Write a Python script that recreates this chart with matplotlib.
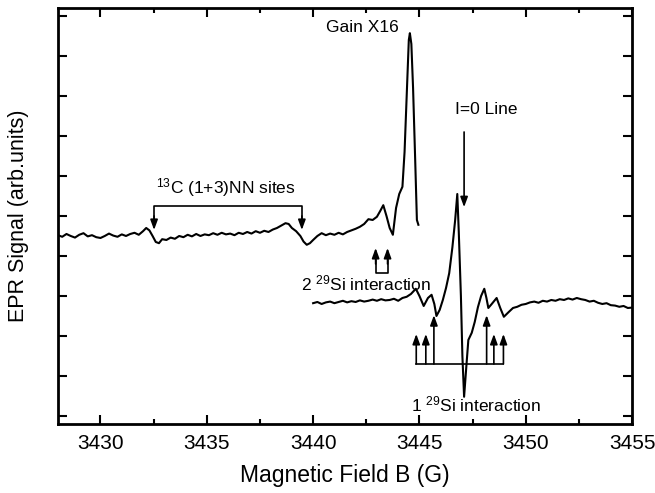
import matplotlib
matplotlib.use('Agg')
import matplotlib.pyplot as plt
from matplotlib.ticker import MultipleLocator

plt.rcParams['font.family'] = ['Liberation Sans', 'DejaVu Sans']
plt.rcParams['mathtext.default'] = 'regular'

# Upper trace (Gain X16), field in G, signal in arb. units
upper_b = [3428.0, 3428.2, 3428.4, 3428.6, 3428.8, 3429.0, 3429.2, 3429.4, 3429.6, 3429.8,
           3430.0, 3430.2, 3430.4, 3430.6, 3430.8, 3431.0, 3431.2, 3431.4, 3431.6, 3431.8,
           3432.0, 3432.15, 3432.3, 3432.45, 3432.6, 3432.75, 3432.9, 3433.1, 3433.3, 3433.5,
           3433.7, 3433.9, 3434.1, 3434.3, 3434.5, 3434.7, 3434.9, 3435.1, 3435.3, 3435.5,
           3435.7, 3435.9, 3436.1, 3436.3, 3436.5, 3436.7, 3436.9, 3437.1, 3437.3, 3437.5,
           3437.7, 3437.9, 3438.1, 3438.3, 3438.5, 3438.7, 3438.85, 3439.0, 3439.2, 3439.4,
           3439.55, 3439.7, 3439.85, 3440.0, 3440.2, 3440.4, 3440.6, 3440.8, 3441.0, 3441.2,
           3441.4, 3441.6, 3441.8, 3442.0, 3442.2, 3442.4, 3442.6, 3442.8, 3443.0, 3443.15,
           3443.3, 3443.45, 3443.6, 3443.75, 3443.9, 3444.05, 3444.2, 3444.3, 3444.4, 3444.5,
           3444.55, 3444.62, 3444.7, 3444.8, 3444.88, 3444.95]
upper_s = [4.52, 4.48, 4.55, 4.50, 4.46, 4.53, 4.57, 4.49, 4.52, 4.47,
           4.45, 4.50, 4.56, 4.51, 4.48, 4.54, 4.50, 4.55, 4.58, 4.53,
           4.62, 4.70, 4.64, 4.50, 4.35, 4.32, 4.42, 4.40, 4.46, 4.43,
           4.50, 4.47, 4.53, 4.49, 4.55, 4.50, 4.54, 4.52, 4.57, 4.53,
           4.58, 4.54, 4.56, 4.52, 4.58, 4.55, 4.60, 4.56, 4.62, 4.58,
           4.63, 4.60, 4.66, 4.70, 4.76, 4.82, 4.80, 4.70, 4.62, 4.50,
           4.36, 4.28, 4.32, 4.40, 4.50, 4.57, 4.52, 4.56, 4.53, 4.58,
           4.54, 4.60, 4.64, 4.68, 4.73, 4.80, 4.92, 4.90, 4.98, 5.12,
           5.27, 5.00, 4.70, 4.53, 5.20, 5.55, 5.73, 6.60, 8.00, 9.40,
           9.57, 9.30, 8.20, 6.40, 4.90, 4.78]

# Lower trace (full spectrum)
lower_b = [3440.0, 3440.2, 3440.4, 3440.6, 3440.8, 3441.0, 3441.2, 3441.4, 3441.6, 3441.8,
           3442.0, 3442.2, 3442.4, 3442.6, 3442.8, 3443.0, 3443.2, 3443.4, 3443.6, 3443.8,
           3444.0, 3444.2, 3444.4, 3444.6, 3444.83, 3445.0, 3445.2, 3445.4, 3445.57, 3445.7,
           3445.8, 3445.95, 3446.1, 3446.25, 3446.4, 3446.55, 3446.68, 3446.78, 3446.85, 3446.95,
           3447.02, 3447.1, 3447.2, 3447.3, 3447.46, 3447.6, 3447.75, 3447.9, 3448.05, 3448.15,
           3448.24, 3448.4, 3448.63, 3448.8, 3448.97, 3449.2, 3449.4, 3449.6, 3449.8, 3450.0,
           3450.2, 3450.4, 3450.6, 3450.8, 3451.0, 3451.2, 3451.4, 3451.6, 3451.8, 3452.0,
           3452.2, 3452.4, 3452.6, 3452.8, 3453.0, 3453.2, 3453.4, 3453.6, 3453.8, 3454.0,
           3454.2, 3454.4, 3454.6, 3454.8, 3455.0]
lower_s = [2.82, 2.85, 2.80, 2.84, 2.86, 2.82, 2.85, 2.88, 2.84, 2.87,
           2.85, 2.89, 2.86, 2.88, 2.91, 2.88, 2.92, 2.89, 2.90, 2.93,
           2.88, 2.95, 2.98, 3.05, 3.18, 3.00, 2.75, 2.95, 3.03, 2.80,
           2.50, 2.65, 2.90, 3.20, 3.57, 4.22, 4.90, 5.55, 4.60, 3.00,
           1.50, 0.48, 1.20, 1.90, 2.08, 2.35, 2.72, 3.00, 3.18, 2.95,
           2.70, 2.80, 2.95, 2.70, 2.48, 2.60, 2.70, 2.73, 2.78, 2.80,
           2.84, 2.86, 2.83, 2.88, 2.86, 2.90, 2.88, 2.92, 2.90, 2.94,
           2.91, 2.95, 2.92, 2.90, 2.86, 2.88, 2.83, 2.80, 2.82, 2.77,
           2.76, 2.73, 2.75, 2.70, 2.71]

# hyperfine line positions marked by arrows
c13_lines = [3432.52, 3439.47]
si2_lines = [3442.94, 3443.50]
si1_outer = [3444.85, 3445.30, 3448.50, 3448.95]
si1_inner = [3445.68, 3448.16]
i0_line = 3447.1

fig = plt.figure(figsize=(6.55, 4.93), dpi=100)
ax = fig.add_axes([0.0885, 0.14, 0.8765, 0.8438])

ax.plot(upper_b, upper_s, color='black', lw=1.5)
ax.plot(lower_b, lower_s, color='black', lw=1.5)

arrow = dict(arrowstyle='-|>,head_length=0.6,head_width=0.22', color='black',
             lw=1.2, shrinkA=0, shrinkB=0, mutation_scale=10)

# 13C bracket (arrows pointing down)
ax.plot([c13_lines[0], c13_lines[0], c13_lines[1], c13_lines[1]],
        [4.9, 5.25, 5.25, 4.9], color='black', lw=1.2)
for b in c13_lines:
    ax.annotate('', xy=(b, 4.65), xytext=(b, 5.0), arrowprops=arrow)
ax.text(3432.6, 5.72, '$^{13}$C (1+3)NN sites', fontsize=12.5, va='center', ha='left')

# 2 29Si bracket (arrows pointing up)
ax.plot([si2_lines[0], si2_lines[0], si2_lines[1], si2_lines[1]],
        [3.9, 3.575, 3.575, 3.9], color='black', lw=1.2)
for b in si2_lines:
    ax.annotate('', xy=(b, 4.2), xytext=(b, 3.8), arrowprops=arrow)
ax.text(3439.45, 3.32, '2 $^{29}$Si interaction', fontsize=12.5, va='center', ha='left')

# 1 29Si bracket
ax.plot([si1_outer[0], si1_outer[-1]], [1.3, 1.3], color='black', lw=1.2)
for b in si1_outer:
    ax.annotate('', xy=(b, 2.05), xytext=(b, 1.3), arrowprops=arrow)
for b in si1_inner:
    ax.annotate('', xy=(b, 2.52), xytext=(b, 1.3), arrowprops=arrow)
ax.text(3444.6, 0.28, '1 $^{29}$Si interaction', fontsize=12.5, va='center', ha='left')

# I=0 line
ax.annotate('', xy=(i0_line, 5.22), xytext=(i0_line, 7.1), arrowprops=arrow)
ax.text(3448.15, 7.65, 'I=0 Line', fontsize=12.5, va='center', ha='center')

ax.text(3444.05, 9.72, 'Gain X16', fontsize=12.5, va='center', ha='right')

ax.set_xlim(3428, 3455)
ax.set_ylim(-0.2, 10.2)
ax.xaxis.set_major_locator(MultipleLocator(5))
ax.xaxis.set_minor_locator(MultipleLocator(2.5))
ax.yaxis.set_major_locator(MultipleLocator(1))
ax.set_yticklabels([])
ax.tick_params(which='both', direction='in', top=True, right=True, width=1.5)
ax.tick_params(which='major', length=6.5, labelsize=15, pad=7)
ax.tick_params(which='minor', length=3.5)
for sp in ax.spines.values():
    sp.set_linewidth(2)

ax.set_xlabel('Magnetic Field B (G)', fontsize=16.5, labelpad=8)
ax.set_ylabel('EPR Signal (arb.units)', fontsize=15.5)
ax.yaxis.set_label_coords(-0.05, 0.5)

plt.savefig('out.png', dpi=100)
